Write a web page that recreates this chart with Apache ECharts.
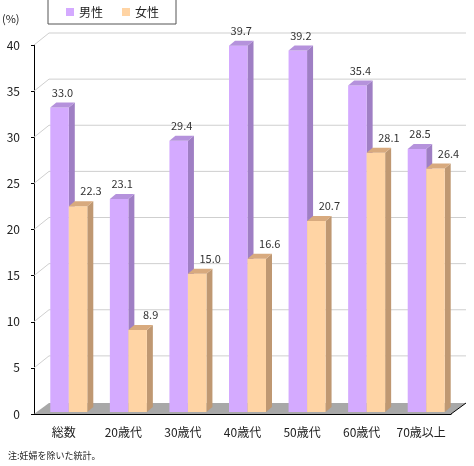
<!DOCTYPE html>
<html>
<head>
<meta charset="utf-8">
<script src="https://cdn.jsdelivr.net/npm/echarts@6/dist/echarts.min.js"></script>
<style>
html, body { margin: 0; padding: 0; background: #fff; }
#main { width: 474px; height: 466px; }
</style>
</head>
<body>
<div id="main"></div>
<script>
// データ
var categories = ['総数', '20歳代', '30歳代', '40歳代', '50歳代', '60歳代', '70歳以上'];
var male = [33.0, 23.1, 29.4, 39.7, 39.2, 35.4, 28.5];
var female = [22.3, 8.9, 15.0, 16.6, 20.7, 28.1, 26.4];
var yTicks = [0, 5, 10, 15, 20, 25, 30, 35, 40];

var FONT = 'Noto Sans CJK JP';
var BAR_W = 18.5;
var DX = 6, DY = 5;        // bar depth
var WX = 15, WY = 12;      // wall depth

function barItem(offset, front, side, top, labelShift) {
    return function (params, api) {
        var idx = api.value(0);
        var v = api.value(1);
        var base = api.coord([idx, 0]);
        var pt = api.coord([idx, v]);
        var x0 = base[0] + offset, x1 = x0 + BAR_W;
        var yb = base[1] - 2, yt = pt[1] - 2;
        return {
            type: 'group',
            children: [
                { type: 'polygon', shape: { points: [[x1, yt], [x1 + DX, yt - DY], [x1 + DX, yb - DY], [x1, yb]] }, style: { fill: side } },
                { type: 'rect', shape: { x: x0, y: yt, width: BAR_W, height: yb - yt }, style: { fill: front } },
                { type: 'polygon', shape: { points: [[x0, yt], [x0 + DX, yt - DY], [x1 + DX, yt - DY], [x1, yt]] }, style: { fill: top } },
                {
                    type: 'text',
                    style: {
                        text: v.toFixed(1), x: (x0 + x1 + DX) / 2 + labelShift, y: yt - 15,
                        align: 'center', verticalAlign: 'middle',
                        font: '11px "' + FONT + '"', fill: '#333'
                    }
                }
            ]
        };
    };
}

function wallItem(params, api) {
    var cs = params.coordSys;
    var v = api.value(1);
    var y = api.coord([0, v])[1];
    var xl = cs.x, xr = cs.x + cs.width;
    if (v === 0) {
        return {
            type: 'group',
            children: [
                { type: 'polygon', shape: { points: [[xl, y], [xl + WX, y - 11], [xr + WX, y - 11], [xr, y]] }, style: { fill: '#a8a8a8' } },
                { type: 'line', shape: { x1: xr, y1: y, x2: xr + WX, y2: y - 11 }, style: { stroke: '#000', lineWidth: 1 } }
            ]
        };
    }
    return {
        type: 'group',
        children: [
            { type: 'line', shape: { x1: xl + WX, y1: y - WY, x2: xr + WX, y2: y - WY }, style: { stroke: '#cfcfcf', lineWidth: 1 } },
            { type: 'line', shape: { x1: xl, y1: y, x2: xl + WX, y2: y - WY }, style: { stroke: '#cfcfcf', lineWidth: 1 } }
        ]
    };
}

var chart = echarts.init(document.getElementById('main'));
chart.setOption({
    backgroundColor: '#fff',
    animation: false,
    textStyle: { fontFamily: FONT },
    grid: { left: 34, right: 23, top: 45, bottom: 52 },
    legend: {
        left: 48, top: -1,
        data: ['男性', '女性'],
        icon: 'rect', itemWidth: 8, itemHeight: 8, itemGap: 19,
        padding: [7, 17, 6, 18],
        borderColor: '#555', borderWidth: 1,
        textStyle: { fontSize: 12, color: '#222', fontFamily: FONT }
    },
    xAxis: {
        type: 'category',
        data: categories,
        axisLine: { lineStyle: { color: '#000' } },
        axisTick: { length: 4, lineStyle: { color: '#000' } },
        axisLabel: { interval: 0, fontSize: 12, color: '#222', margin: 12, fontFamily: FONT }
    },
    yAxis: {
        type: 'value',
        min: 0, max: 40, interval: 5,
        axisLine: { show: true, lineStyle: { color: '#000' } },
        axisTick: { show: true, length: 3, lineStyle: { color: '#000' } },
        splitLine: { show: false },
        axisLabel: { fontSize: 12, color: '#222', margin: 14, fontFamily: FONT }
    },
    graphic: [
        { type: 'text', left: 2, top: 13, style: { text: '(%)', font: '11px "' + FONT + '"', fill: '#222' } },
        { type: 'text', left: 8, top: 451, style: { text: '注:妊婦を除いた統計。', font: '9px "' + FONT + '"', fill: '#222' } }
    ],
    series: [
        {
            type: 'custom', name: 'wall', z: 1, silent: true,
            renderItem: wallItem,
            data: yTicks.map(function (t) { return [0, t]; })
        },
        {
            type: 'custom', name: '男性', z: 2,
            itemStyle: { color: '#d4aaff' },
            renderItem: barItem(-13.5, '#d4aaff', '#9f7fc4', '#b592dc', 0),
            data: male.map(function (v, i) { return [i, v]; })
        },
        {
            type: 'custom', name: '女性', z: 3,
            itemStyle: { color: '#ffd4a4' },
            renderItem: barItem(5, '#ffd4a4', '#bf9872', '#d8aa7e', 10),
            data: female.map(function (v, i) { return [i, v]; })
        }
    ]
});
</script>
</body>
</html>
